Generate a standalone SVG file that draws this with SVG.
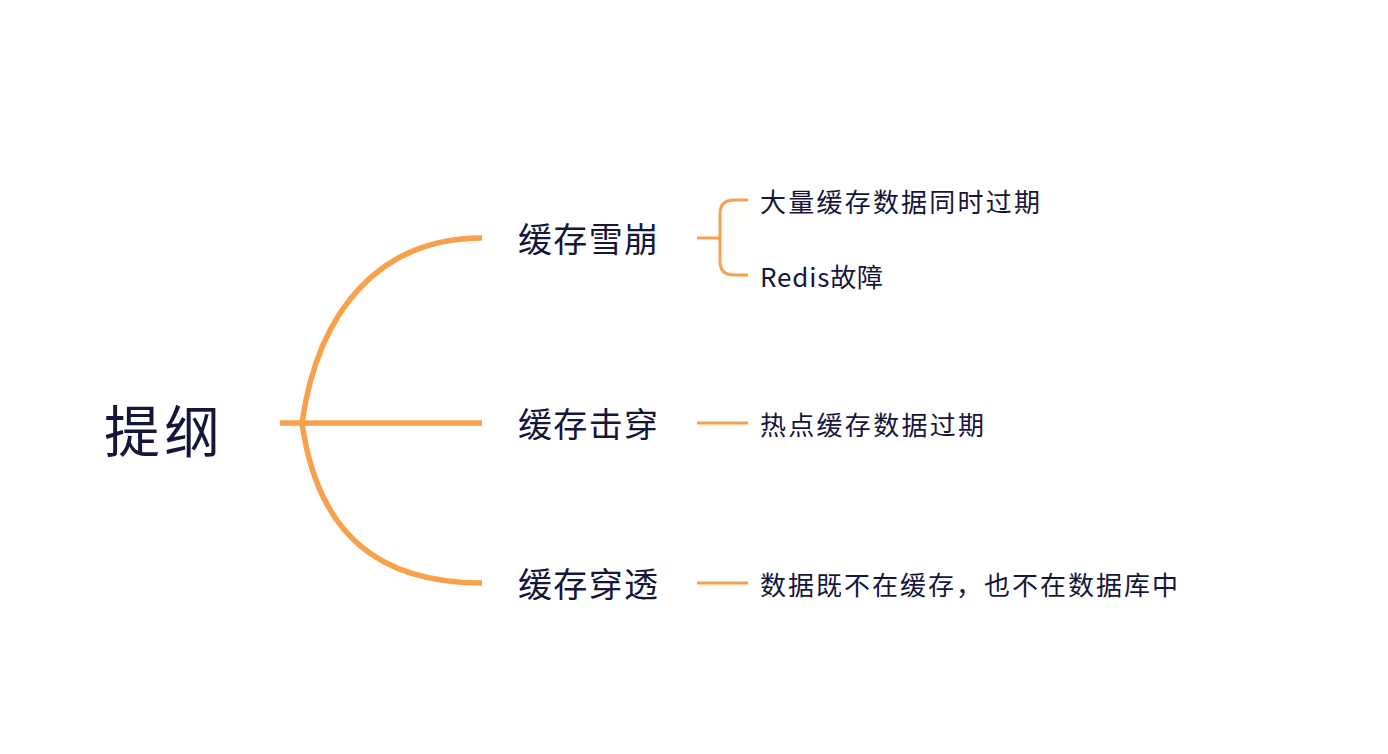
<svg xmlns="http://www.w3.org/2000/svg" width="1388" height="754" viewBox="0 0 1388 754">
<style>
.t{font-family:"Noto Sans CJK SC","Noto Sans",sans-serif;fill:#15163a}
.l1{font-size:56px}
.l2{font-size:34px}
.l3{font-size:26px}
.c{fill:none;stroke:#f8a14b;stroke-linecap:butt;stroke-linejoin:round}
.w5{stroke-width:5.5}
.w3{stroke-width:3}
</style>
<rect width="1388" height="754" fill="#ffffff"/>
<g id="connectors">
<path class="c w5" d="M280,423 H482"/>
<path class="c w5" d="M302,423 C318,310 380,238 482,238"/>
<path class="c w5" d="M302,423 C318,536 380,583 482,583"/>
<path class="c w3" d="M697,238 H720"/>
<path class="c w3" d="M748,200 H734 Q720,200 720,214 V261 Q720,275 734,275 H748"/>
<path class="c w3" d="M697,423 H748"/>
<path class="c w3" d="M697,583 H748"/>
</g>
<g id="root"><text class="t l1" x="104" y="452" textLength="116">提纲</text></g>
<g id="n1"><text class="t l2" x="518" y="252" textLength="140">缓存雪崩</text></g>
<g id="n2"><text class="t l2" x="518" y="437" textLength="140">缓存击穿</text></g>
<g id="n3"><text class="t l2" x="518" y="597" textLength="140">缓存穿透</text></g>
<g id="n1a"><text class="t l3" x="760" y="212" textLength="280">大量缓存数据同时过期</text></g>
<g id="n1b"><text class="t l3" x="760" y="287" textLength="123">Redis故障</text></g>
<g id="n2a"><text class="t l3" x="760" y="435" textLength="224">热点缓存数据过期</text></g>
<g id="n3a"><text class="t l3" x="760" y="595" textLength="418">数据既不在缓存，也不在数据库中</text></g>
</svg>
